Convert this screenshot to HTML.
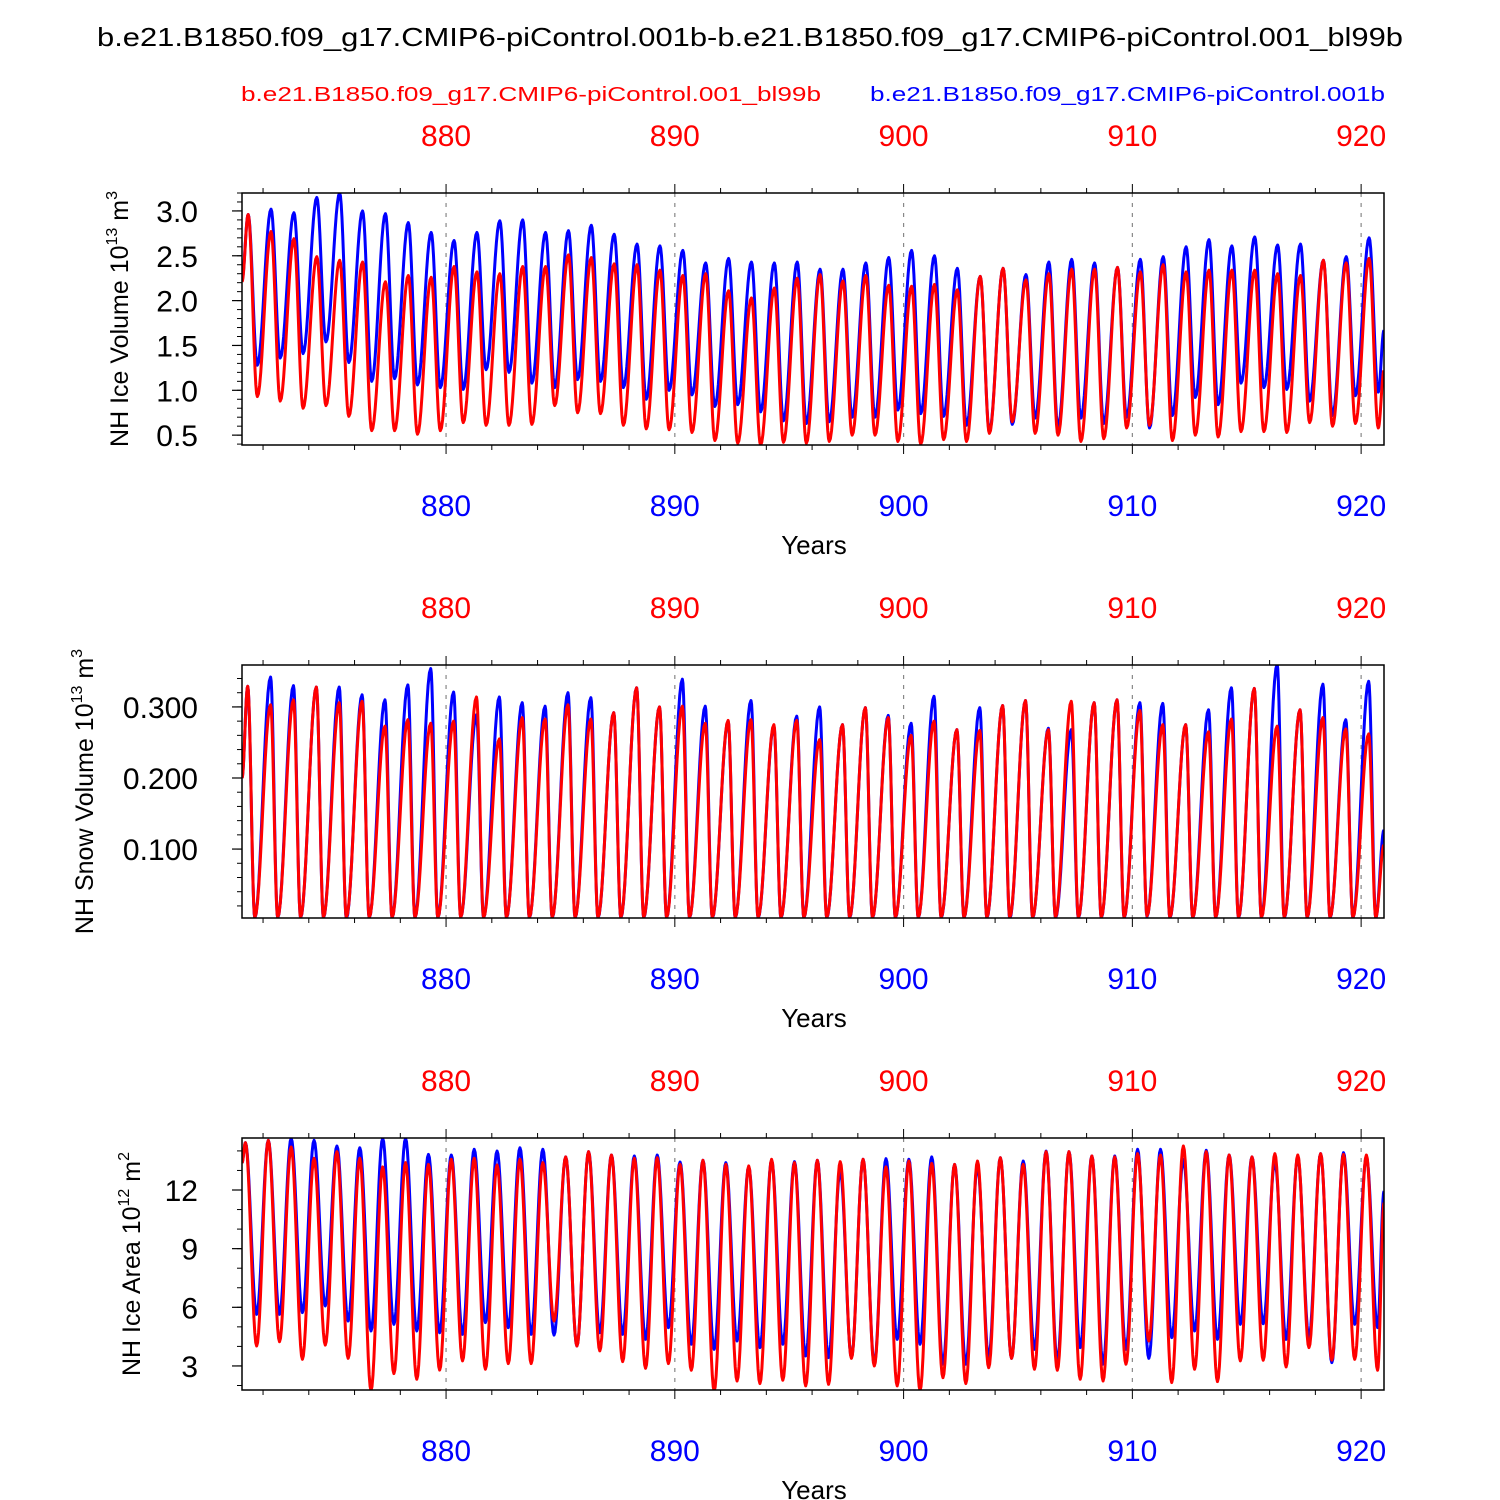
<!DOCTYPE html>
<html><head><meta charset="utf-8">
<style>
html,body{margin:0;padding:0;background:#fff;}
svg{display:block;font-family:"Liberation Sans",sans-serif;}
</style></head>
<body>
<svg id="chart" width="1500" height="1500" viewBox="0 0 1500 1500" xmlns="http://www.w3.org/2000/svg">
<rect width="1500" height="1500" fill="#fff"/>
<text x="750" y="46" text-anchor="middle" font-size="26" textLength="1306" lengthAdjust="spacingAndGlyphs">b.e21.B1850.f09_g17.CMIP6-piControl.001b-b.e21.B1850.f09_g17.CMIP6-piControl.001_bl99b</text>
<text x="241" y="101" font-size="20" fill="#f00" textLength="580" lengthAdjust="spacingAndGlyphs">b.e21.B1850.f09_g17.CMIP6-piControl.001_bl99b</text>
<text x="870" y="101" font-size="20" fill="#00f" textLength="515" lengthAdjust="spacingAndGlyphs">b.e21.B1850.f09_g17.CMIP6-piControl.001b</text>
<g id="panels"></g>
</svg>
<script>
// ---------- Data (annual extremes) ----------
const yearTicks = [880, 890, 900, 910, 920];
const iceVolBluePeak = [2.96,3.02,2.98,3.15,3.20,3.00,2.97,2.87,2.76,2.67,2.76,2.89,2.90,2.76,2.78,2.84,2.74,2.63,2.61,2.56,2.42,2.47,2.43,2.42,2.43,2.35,2.35,2.42,2.48,2.56,2.50,2.36,2.27,2.36,2.29,2.43,2.46,2.42,2.37,2.46,2.49,2.60,2.68,2.61,2.71,2.62,2.63,2.45,2.49,2.70];
const iceVolBlueMin = [1.28,1.36,1.41,1.54,1.31,1.10,1.13,1.06,1.03,1.01,1.23,1.20,1.08,1.03,1.12,1.10,1.03,0.90,1.00,0.95,0.82,0.84,0.76,0.66,0.63,0.65,0.70,0.70,0.78,0.74,0.71,0.61,0.54,0.62,0.69,0.59,0.69,0.63,0.70,0.58,0.72,0.92,0.84,1.08,1.03,1.01,0.88,0.72,0.94,0.98];
const iceVolRedPeak = [2.96,2.77,2.69,2.49,2.45,2.43,2.21,2.28,2.26,2.38,2.32,2.30,2.38,2.38,2.51,2.48,2.41,2.40,2.34,2.28,2.30,2.11,2.03,2.14,2.25,2.29,2.22,2.28,2.17,2.16,2.18,2.12,2.27,2.36,2.23,2.30,2.35,2.35,2.37,2.32,2.40,2.32,2.34,2.34,2.34,2.30,2.28,2.45,2.42,2.47];
const iceVolRedMin = [0.93,0.88,0.80,0.83,0.71,0.55,0.55,0.51,0.55,0.64,0.61,0.61,0.62,0.83,0.75,0.74,0.61,0.57,0.56,0.53,0.44,0.41,0.39,0.42,0.41,0.43,0.50,0.50,0.43,0.40,0.45,0.43,0.52,0.65,0.52,0.50,0.43,0.46,0.58,0.61,0.44,0.50,0.48,0.54,0.54,0.53,0.64,0.60,0.63,0.58];
const iceVolEnds = {blue:[2.23,1.67], red:[2.21,1.22]};

const snowBluePeak = [0.329,0.342,0.330,0.328,0.328,0.317,0.310,0.331,0.354,0.321,0.289,0.314,0.306,0.301,0.320,0.313,0.292,0.327,0.300,0.339,0.301,0.280,0.309,0.273,0.287,0.300,0.275,0.299,0.288,0.277,0.315,0.268,0.299,0.302,0.309,0.270,0.268,0.306,0.310,0.306,0.305,0.275,0.296,0.327,0.326,0.360,0.296,0.332,0.282,0.336];
const snowRedPeak = [0.329,0.303,0.310,0.328,0.306,0.308,0.273,0.282,0.277,0.280,0.314,0.255,0.285,0.283,0.303,0.283,0.292,0.327,0.300,0.301,0.277,0.281,0.282,0.275,0.281,0.254,0.275,0.299,0.285,0.260,0.280,0.268,0.267,0.302,0.309,0.268,0.308,0.306,0.310,0.295,0.275,0.275,0.265,0.283,0.326,0.273,0.296,0.285,0.269,0.262];
const snowBlueMin = [0.003,0.003,0.003,0.003,0.002,0.003,0.003,0.003,0.003,0.004,0.003,0.003,0.003,0.003,0.003,0.003,0.003,0.003,0.003,0.003,0.003,0.003,0.003,0.003,0.003,0.003,0.003,0.003,0.003,0.003,0.003,0.003,0.003,0.002,0.003,0.003,0.003,0.003,0.003,0.005,0.003,0.003,0.003,0.003,0.003,0.003,0.003,0.003,0.003,0.003];
const snowRedMin = [0.004,0.004,0.004,0.004,0.004,0.004,0.004,0.004,0.004,0.004,0.004,0.004,0.004,0.004,0.004,0.004,0.004,0.004,0.004,0.004,0.004,0.004,0.004,0.004,0.004,0.004,0.004,0.004,0.004,0.004,0.004,0.004,0.004,0.004,0.004,0.004,0.004,0.004,0.004,0.006,0.004,0.004,0.004,0.004,0.004,0.004,0.004,0.004,0.004,0.004];
const snowEnds = {blue:[0.20,0.127], red:[0.20,0.106]};

const areaBluePeak = [14.42,14.54,14.64,14.54,14.25,14.16,14.64,14.64,13.82,13.79,14.08,13.99,14.16,14.08,13.69,13.96,13.79,13.74,13.79,13.43,13.52,13.40,13.18,13.52,13.45,13.52,13.00,13.57,13.60,13.57,13.69,13.31,13.23,13.65,13.48,13.99,13.96,13.74,13.74,14.08,14.08,13.57,14.03,13.79,13.69,13.45,13.69,13.86,13.91,13.69];
const areaBlueMin = [5.64,5.64,5.73,6.07,5.30,4.79,5.13,4.79,4.70,4.62,5.22,4.96,4.62,4.58,4.02,4.70,4.62,4.36,4.96,4.11,3.85,4.28,3.94,4.11,3.51,3.43,3.43,3.09,4.36,4.11,3.09,3.09,3.43,3.39,3.85,3.26,3.94,3.09,3.85,3.39,4.45,4.79,4.36,5.13,5.16,4.36,4.45,3.17,5.13,4.96];
const areaRedPeak = [14.42,14.54,14.20,13.62,13.96,13.62,13.18,13.40,13.31,13.57,13.62,13.28,13.57,13.40,13.69,13.96,13.79,13.62,13.65,13.31,13.52,13.31,13.23,13.57,13.40,13.52,13.45,13.57,13.18,13.48,13.36,13.31,13.48,13.65,13.31,13.96,13.96,13.74,13.69,13.86,13.79,14.25,13.96,13.79,13.69,13.86,13.79,13.86,13.82,13.79];
const areaRedMin = [4.02,4.24,3.34,4.07,3.39,1.75,2.61,2.32,2.79,3.26,2.83,3.12,3.12,5.30,4.02,3.77,3.22,2.88,3.12,2.78,1.72,2.23,2.10,2.27,1.98,2.06,3.39,3.00,1.98,1.75,2.40,2.10,2.91,3.39,2.83,2.78,2.32,2.23,3.09,4.28,2.15,2.83,2.20,3.26,3.29,2.95,3.94,3.30,3.34,2.78];
const areaEnds = {blue:[13.4,11.95], red:[13.4,11.35]};

// ---------- Layout ----------
const firstYear = 871;
const xMin = 871.08, xMax = 921.0;
const X0 = 242, X1 = 1384;
const NS = "http://www.w3.org/2000/svg";
const root = document.getElementById('panels');
function xs(t){ return X0 + (t - xMin) / (xMax - xMin) * (X1 - X0); }
function el(tag, attrs, parent){
  const e = document.createElementNS(NS, tag);
  for (const k in attrs) e.setAttribute(k, attrs[k]);
  (parent || root).appendChild(e);
  return e;
}

const panels = [
  {name:'ice-volume', top:193, bot:445, vMin:0.39, vMax:3.2,
   major:[0.5,1.0,1.5,2.0,2.5,3.0], fmt:v=>v.toFixed(1), minorStep:0.1,
   bp:iceVolBluePeak, bm:iceVolBlueMin, rp:iceVolRedPeak, rm:iceVolRedMin, ends:iceVolEnds,
   peakPh:0.35, troughPh:0.75,
   title:['NH Ice Volume 10','13',' m','3'], titleX:136},
  {name:'snow-volume', top:665, bot:918, vMin:0.003, vMax:0.359,
   major:[0.1,0.2,0.3], fmt:v=>v.toFixed(3), minorStep:0.02,
   bp:snowBluePeak, bm:snowBlueMin, rp:snowRedPeak, rm:snowRedMin, ends:snowEnds,
   peakPh:0.33, troughPh:0.64,
   title:['NH Snow Volume 10','13',' m','3'], titleX:101},
  {name:'ice-area', top:1138, bot:1390, vMin:1.77, vMax:14.66,
   major:[3,6,9,12], fmt:v=>String(v), minorStep:1,
   bp:areaBluePeak, bm:areaBlueMin, rp:areaRedPeak, rm:areaRedMin, ends:areaEnds,
   peakPh:0.23, troughPh:0.72,
   title:['NH Ice Area 10','12',' m','2'], titleX:148}
];

function buildPath(p, peaks, mins, ends, ys){
  const pts = [[xMin, ends[0]]];
  for (let i = 0; i < peaks.length; i++){
    pts.push([firstYear + i + p.peakPh, peaks[i]]);
    pts.push([firstYear + i + p.troughPh, mins[i]]);
  }
  pts.push([xMax, ends[1]]);
  let d = '';
  for (let k = 0; k < pts.length - 1; k++){
    const [t0, v0] = pts[k], [t1, v1] = pts[k+1];
    const n = 12;
    for (let j = (k === 0 ? 0 : 1); j <= n; j++){
      const f = j / n;
      const w = (1 - Math.cos(Math.PI * f)) / 2;
      const t = t0 + (t1 - t0) * f, v = v0 + (v1 - v0) * w;
      d += (d ? 'L' : 'M') + xs(t).toFixed(2) + ',' + ys(v).toFixed(2);
    }
  }
  return d;
}

panels.forEach(p => {
  const ys = v => p.bot - (v - p.vMin) / (p.vMax - p.vMin) * (p.bot - p.top);
  const g = el('g', {});
  
  
  const clipId = 'clip-' + p.name;
  const cp = el('clipPath', {id: clipId}, g);
  el('rect', {x:X0, y:p.top, width:X1-X0, height:p.bot-p.top}, cp);

  yearTicks.forEach(yr => {
    const gl = el('line', {x1:xs(yr), x2:xs(yr), y1:p.top, y2:p.bot, stroke:'#888', 'stroke-width':1.2, 'stroke-dasharray':'4 6'}, g);
    
    
  });
  for (let yr = 872; yr <= 920; yr += 2){
    const major = yr % 10 === 0, L = major ? 9 : 5;
    el('line', {x1:xs(yr), x2:xs(yr), y1:p.top, y2:p.top - L, stroke:'#000', 'stroke-width':1}, g);
    el('line', {x1:xs(yr), x2:xs(yr), y1:p.bot, y2:p.bot + L, stroke:'#000', 'stroke-width':1}, g);
  }
  yearTicks.forEach(yr => {
    const tt = el('text', {x:xs(yr), y:p.top - 47, 'text-anchor':'middle', 'font-size':30, fill:'#f00'}, g);
    tt.textContent = yr;
    
    
    const tb = el('text', {x:xs(yr), y:p.bot + 71, 'text-anchor':'middle', 'font-size':30, fill:'#00f'}, g);
    tb.textContent = yr;
    
    
  });
  const xt = el('text', {x:814, y:p.bot + 109, 'text-anchor':'middle', 'font-size':26}, g);
  xt.textContent = 'Years';
  
  

  const nMin = Math.ceil(p.vMin / p.minorStep - 1e-6), nMax = Math.floor(p.vMax / p.minorStep + 1e-6);
  for (let k = nMin; k <= nMax; k++){
    const v = k * p.minorStep, y = ys(v);
    el('line', {x1:X0, x2:X0 - 5, y1:y, y2:y, stroke:'#000', 'stroke-width':1}, g);
  }
  p.major.forEach(v => {
    const y = ys(v);
    el('line', {x1:X0, x2:X0 - 10, y1:y, y2:y, stroke:'#000', 'stroke-width':1.2}, g);
    const t = el('text', {x:198, y:y + 11, 'text-anchor':'end', 'font-size':30}, g);
    t.textContent = p.fmt(v);
    
    
  });
  const cy = (p.top + p.bot) / 2;
  const tx = p.titleX - 8;
  const yt = el('text', {x:0, y:0, 'text-anchor':'middle', 'font-size':25, transform:'translate(' + tx + ',' + cy + ') rotate(-90)'}, g);
  
  
  const a = el('tspan', {}, yt); a.textContent = p.title[0];
  const b = el('tspan', {'font-size':16, dy:-11}, yt); b.textContent = p.title[1];
  const c = el('tspan', {dy:11}, yt); c.textContent = p.title[2];
  const d = el('tspan', {'font-size':16, dy:-11}, yt); d.textContent = p.title[3];

  const blue = el('path', {d:buildPath(p, p.bp, p.bm, p.ends.blue, ys), fill:'none', stroke:'#00f', 'stroke-width':3, 'stroke-linejoin':'round', 'clip-path':'url(#' + clipId + ')'}, g);
  
  
  const red = el('path', {d:buildPath(p, p.rp, p.rm, p.ends.red, ys), fill:'none', stroke:'#f00', 'stroke-width':3, 'stroke-linejoin':'round', 'clip-path':'url(#' + clipId + ')'}, g);
  
  

  const frame = el('rect', {x:X0, y:p.top, width:X1-X0, height:p.bot-p.top, fill:'none', stroke:'#000', 'stroke-width':1.5}, g);
  
  
});
</script>
</body></html>
